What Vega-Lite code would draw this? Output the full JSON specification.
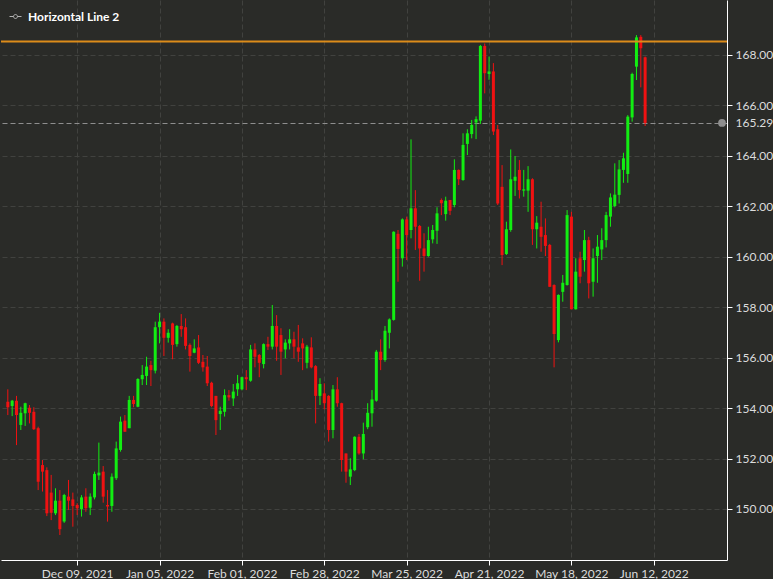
{
  "$schema": "https://vega.github.io/schema/vega-lite/v6.json",
  "width": 726,
  "height": 560,
  "padding": 0,
  "background": "#2a2b28",
  "config": {"view": {"stroke": null}, "font": "Lato"},
  "datasets": {
    "ohlc": [
      {"d":"2021-11-17","o":154.25,"h":154.74,"l":153.72,"c":154.03},
      {"d":"2021-11-18","o":154.08,"h":154.32,"l":153.68,"c":154.29},
      {"d":"2021-11-19","o":154.29,"h":154.48,"l":152.53,"c":153.72},
      {"d":"2021-11-22","o":153.33,"h":154.05,"l":153.13,"c":153.81},
      {"d":"2021-11-23","o":153.79,"h":154.21,"l":153.29,"c":154.19},
      {"d":"2021-11-24","o":154.01,"h":154.12,"l":153.39,"c":153.81},
      {"d":"2021-11-25","o":153.85,"h":154.03,"l":153.13,"c":153.16},
      {"d":"2021-11-26","o":153.2,"h":153.26,"l":150.75,"c":151.08},
      {"d":"2021-11-29","o":151.74,"h":151.94,"l":150.69,"c":151.48},
      {"d":"2021-11-30","o":151.54,"h":151.65,"l":149.72,"c":149.83},
      {"d":"2021-12-01","o":150.65,"h":151.35,"l":149.56,"c":149.85},
      {"d":"2021-12-02","o":149.83,"h":150.82,"l":149.76,"c":150.33},
      {"d":"2021-12-03","o":150.33,"h":150.75,"l":148.97,"c":149.2},
      {"d":"2021-12-06","o":149.5,"h":150.6,"l":149.45,"c":150.55},
      {"d":"2021-12-07","o":150.49,"h":151.15,"l":149.96,"c":150.33},
      {"d":"2021-12-08","o":150.38,"h":150.65,"l":149.3,"c":150.12},
      {"d":"2021-12-09","o":150.16,"h":150.23,"l":149.76,"c":150.03},
      {"d":"2021-12-10","o":149.99,"h":150.55,"l":149.7,"c":150.46},
      {"d":"2021-12-13","o":150.49,"h":150.82,"l":149.89,"c":150.03},
      {"d":"2021-12-14","o":150.05,"h":150.62,"l":149.76,"c":150.49},
      {"d":"2021-12-15","o":150.46,"h":151.48,"l":150.38,"c":151.39},
      {"d":"2021-12-16","o":151.33,"h":152.63,"l":151.15,"c":151.44},
      {"d":"2021-12-17","o":151.48,"h":151.7,"l":150.25,"c":150.49},
      {"d":"2021-12-20","o":150.16,"h":150.75,"l":149.5,"c":150.1},
      {"d":"2021-12-21","o":150.12,"h":151.41,"l":149.89,"c":151.28},
      {"d":"2021-12-22","o":151.22,"h":152.67,"l":151.15,"c":152.4},
      {"d":"2021-12-23","o":152.34,"h":153.66,"l":152.27,"c":153.46},
      {"d":"2021-12-24","o":153.5,"h":153.72,"l":153.06,"c":153.06},
      {"d":"2021-12-27","o":153.2,"h":154.48,"l":153.2,"c":154.32},
      {"d":"2021-12-28","o":154.32,"h":154.48,"l":154.03,"c":154.16},
      {"d":"2021-12-29","o":154.05,"h":155.18,"l":154.03,"c":155.15},
      {"d":"2021-12-30","o":155.14,"h":155.7,"l":154.91,"c":155.31},
      {"d":"2021-12-31","o":155.27,"h":156.03,"l":154.91,"c":155.64},
      {"d":"2022-01-03","o":155.7,"h":155.87,"l":154.87,"c":155.5},
      {"d":"2022-01-04","o":155.48,"h":157.42,"l":155.37,"c":157.2},
      {"d":"2022-01-05","o":157.2,"h":157.77,"l":156.56,"c":157.42},
      {"d":"2022-01-06","o":157.42,"h":157.55,"l":156.06,"c":156.78},
      {"d":"2022-01-07","o":156.78,"h":157.12,"l":156.59,"c":156.98},
      {"d":"2022-01-10","o":157.35,"h":157.38,"l":155.93,"c":156.5},
      {"d":"2022-01-11","o":156.53,"h":157.29,"l":156.43,"c":157.25},
      {"d":"2022-01-12","o":157.25,"h":157.72,"l":156.82,"c":157.12},
      {"d":"2022-01-13","o":157.2,"h":157.55,"l":156.32,"c":156.46},
      {"d":"2022-01-14","o":156.5,"h":156.56,"l":155.44,"c":156.06},
      {"d":"2022-01-17","o":156.19,"h":156.72,"l":156.17,"c":156.36},
      {"d":"2022-01-18","o":156.4,"h":156.89,"l":155.74,"c":155.79},
      {"d":"2022-01-19","o":155.83,"h":156.1,"l":155.44,"c":155.61},
      {"d":"2022-01-20","o":155.64,"h":156.06,"l":154.87,"c":154.98},
      {"d":"2022-01-21","o":155.0,"h":155.04,"l":154.03,"c":154.08},
      {"d":"2022-01-24","o":154.48,"h":154.48,"l":152.93,"c":153.52},
      {"d":"2022-01-25","o":153.76,"h":154.05,"l":153.13,"c":153.89},
      {"d":"2022-01-26","o":153.85,"h":154.74,"l":153.66,"c":154.51},
      {"d":"2022-01-27","o":154.51,"h":154.71,"l":154.29,"c":154.42},
      {"d":"2022-01-28","o":154.38,"h":154.95,"l":154.08,"c":154.65},
      {"d":"2022-01-31","o":154.74,"h":155.31,"l":154.48,"c":154.98},
      {"d":"2022-02-01","o":154.74,"h":155.24,"l":154.7,"c":155.22},
      {"d":"2022-02-02","o":155.22,"h":155.5,"l":154.71,"c":155.14},
      {"d":"2022-02-03","o":155.08,"h":156.5,"l":155.04,"c":156.32},
      {"d":"2022-02-04","o":156.32,"h":156.56,"l":155.61,"c":156.03},
      {"d":"2022-02-07","o":156.1,"h":156.14,"l":155.22,"c":155.79},
      {"d":"2022-02-08","o":155.74,"h":156.56,"l":155.57,"c":156.53},
      {"d":"2022-02-09","o":156.53,"h":156.82,"l":156.3,"c":156.43},
      {"d":"2022-02-10","o":156.43,"h":158.08,"l":156.32,"c":157.25},
      {"d":"2022-02-11","o":157.25,"h":157.68,"l":155.87,"c":156.43},
      {"d":"2022-02-14","o":156.89,"h":157.16,"l":155.31,"c":156.23},
      {"d":"2022-02-15","o":156.32,"h":156.72,"l":155.97,"c":156.59},
      {"d":"2022-02-16","o":156.56,"h":157.12,"l":156.32,"c":156.72},
      {"d":"2022-02-17","o":156.72,"h":157.02,"l":155.97,"c":156.43},
      {"d":"2022-02-18","o":156.4,"h":157.29,"l":155.83,"c":156.23},
      {"d":"2022-02-21","o":156.56,"h":156.76,"l":155.5,"c":156.36},
      {"d":"2022-02-22","o":155.79,"h":156.5,"l":155.57,"c":156.43},
      {"d":"2022-02-23","o":156.4,"h":156.8,"l":155.57,"c":155.61},
      {"d":"2022-02-24","o":155.66,"h":155.7,"l":153.39,"c":154.48},
      {"d":"2022-02-25","o":154.48,"h":155.18,"l":154.12,"c":154.95},
      {"d":"2022-02-28","o":154.58,"h":154.98,"l":153.95,"c":154.19},
      {"d":"2022-03-01","o":154.48,"h":154.51,"l":152.67,"c":153.13},
      {"d":"2022-03-02","o":153.13,"h":154.91,"l":152.8,"c":154.74},
      {"d":"2022-03-03","o":154.74,"h":155.22,"l":154.05,"c":154.19},
      {"d":"2022-03-04","o":154.19,"h":154.21,"l":151.48,"c":151.94},
      {"d":"2022-03-07","o":152.2,"h":152.2,"l":151.04,"c":151.48},
      {"d":"2022-03-08","o":151.28,"h":152.01,"l":150.95,"c":151.57},
      {"d":"2022-03-09","o":151.54,"h":152.88,"l":151.5,"c":152.86},
      {"d":"2022-03-10","o":152.86,"h":152.97,"l":152.15,"c":152.2},
      {"d":"2022-03-11","o":152.2,"h":153.42,"l":151.97,"c":152.97},
      {"d":"2022-03-14","o":153.24,"h":154.19,"l":153.16,"c":153.81},
      {"d":"2022-03-15","o":153.79,"h":154.71,"l":153.26,"c":154.34},
      {"d":"2022-03-16","o":154.29,"h":156.3,"l":154.25,"c":156.23},
      {"d":"2022-03-17","o":156.23,"h":156.72,"l":155.5,"c":155.9},
      {"d":"2022-03-18","o":155.9,"h":157.25,"l":155.83,"c":157.06},
      {"d":"2022-03-21","o":156.98,"h":157.55,"l":156.36,"c":157.51},
      {"d":"2022-03-22","o":157.49,"h":161.0,"l":157.46,"c":160.98},
      {"d":"2022-03-23","o":160.9,"h":161.05,"l":159.0,"c":160.3},
      {"d":"2022-03-24","o":159.93,"h":161.51,"l":159.6,"c":161.47},
      {"d":"2022-03-25","o":161.47,"h":161.58,"l":159.86,"c":160.85},
      {"d":"2022-03-28","o":161.05,"h":164.64,"l":160.72,"c":161.91},
      {"d":"2022-03-29","o":161.91,"h":162.63,"l":160.26,"c":161.18},
      {"d":"2022-03-30","o":161.21,"h":161.25,"l":159.04,"c":160.32},
      {"d":"2022-03-31","o":160.32,"h":160.92,"l":159.4,"c":160.02},
      {"d":"2022-04-01","o":160.02,"h":161.18,"l":159.99,"c":160.65},
      {"d":"2022-04-04","o":160.68,"h":161.25,"l":160.52,"c":161.05},
      {"d":"2022-04-05","o":161.02,"h":161.95,"l":160.5,"c":161.71},
      {"d":"2022-04-06","o":162.24,"h":162.3,"l":161.64,"c":162.11},
      {"d":"2022-04-07","o":161.68,"h":162.37,"l":161.42,"c":162.21},
      {"d":"2022-04-08","o":162.24,"h":162.24,"l":161.64,"c":161.81},
      {"d":"2022-04-11","o":162.04,"h":163.85,"l":161.95,"c":163.43},
      {"d":"2022-04-12","o":163.43,"h":163.45,"l":162.83,"c":163.06},
      {"d":"2022-04-13","o":163.03,"h":164.88,"l":163.0,"c":164.42},
      {"d":"2022-04-14","o":164.46,"h":165.04,"l":164.02,"c":164.88},
      {"d":"2022-04-15","o":164.85,"h":165.41,"l":164.68,"c":165.21},
      {"d":"2022-04-18","o":165.31,"h":165.55,"l":164.65,"c":165.44},
      {"d":"2022-04-19","o":165.38,"h":168.38,"l":165.25,"c":168.34},
      {"d":"2022-04-20","o":168.34,"h":168.44,"l":166.46,"c":167.26},
      {"d":"2022-04-21","o":167.23,"h":167.92,"l":167.0,"c":167.33},
      {"d":"2022-04-22","o":167.33,"h":167.66,"l":164.81,"c":164.95},
      {"d":"2022-04-25","o":165.04,"h":165.21,"l":162.04,"c":162.1},
      {"d":"2022-04-26","o":162.76,"h":163.62,"l":159.66,"c":160.06},
      {"d":"2022-04-27","o":160.1,"h":161.38,"l":160.06,"c":161.08},
      {"d":"2022-04-28","o":161.05,"h":164.24,"l":160.98,"c":163.06},
      {"d":"2022-04-29","o":163.0,"h":163.98,"l":162.4,"c":163.16},
      {"d":"2022-05-02","o":163.43,"h":163.82,"l":162.3,"c":162.63},
      {"d":"2022-05-03","o":162.61,"h":163.43,"l":162.37,"c":162.66},
      {"d":"2022-05-04","o":162.61,"h":163.58,"l":161.77,"c":163.06},
      {"d":"2022-05-05","o":163.06,"h":163.1,"l":160.46,"c":161.08},
      {"d":"2022-05-06","o":161.08,"h":161.6,"l":160.32,"c":161.34},
      {"d":"2022-05-09","o":161.18,"h":162.17,"l":160.19,"c":160.78},
      {"d":"2022-05-10","o":160.85,"h":161.51,"l":160.02,"c":160.42},
      {"d":"2022-05-11","o":160.46,"h":160.5,"l":158.8,"c":158.8},
      {"d":"2022-05-12","o":158.87,"h":158.9,"l":155.61,"c":156.93},
      {"d":"2022-05-13","o":156.69,"h":158.5,"l":156.6,"c":158.48},
      {"d":"2022-05-16","o":158.6,"h":159.27,"l":158.21,"c":158.96},
      {"d":"2022-05-17","o":158.87,"h":161.84,"l":158.85,"c":161.64},
      {"d":"2022-05-18","o":161.58,"h":161.77,"l":157.91,"c":157.91},
      {"d":"2022-05-19","o":157.91,"h":159.93,"l":157.9,"c":159.4},
      {"d":"2022-05-20","o":159.93,"h":160.19,"l":158.94,"c":159.2},
      {"d":"2022-05-23","o":159.86,"h":161.05,"l":159.4,"c":160.65},
      {"d":"2022-05-24","o":160.65,"h":160.78,"l":158.34,"c":158.94},
      {"d":"2022-05-25","o":159.0,"h":160.32,"l":158.41,"c":159.93},
      {"d":"2022-05-26","o":160.02,"h":160.85,"l":158.96,"c":160.39},
      {"d":"2022-05-27","o":160.28,"h":161.12,"l":159.86,"c":160.65},
      {"d":"2022-05-30","o":160.65,"h":161.77,"l":160.36,"c":161.64},
      {"d":"2022-05-31","o":161.58,"h":162.5,"l":161.18,"c":162.34},
      {"d":"2022-06-01","o":162.0,"h":163.69,"l":161.95,"c":162.45},
      {"d":"2022-06-02","o":162.44,"h":163.82,"l":162.1,"c":163.45},
      {"d":"2022-06-03","o":163.43,"h":164.11,"l":162.92,"c":163.89},
      {"d":"2022-06-06","o":163.27,"h":165.6,"l":162.92,"c":165.54},
      {"d":"2022-06-07","o":165.51,"h":167.28,"l":165.34,"c":167.23},
      {"d":"2022-06-08","o":167.52,"h":168.77,"l":166.99,"c":168.68},
      {"d":"2022-06-09","o":168.7,"h":168.77,"l":166.7,"c":168.25},
      {"d":"2022-06-10","o":167.89,"h":167.92,"l":165.17,"c":165.29}
    ],
    "lines": [{"name": "Horizontal Line 2", "level": 168.52}],
    "last": [{"price": 165.29}]
  },
  "layer": [
    {
      "data": {"name": "ohlc"},
      "transform": [{"window": [{"op": "row_number", "as": "i"}], "sort": [{"field": "d", "order": "ascending"}]}],
      "layer": [
        {
          "mark": {"type": "rule", "strokeWidth": 1},
          "encoding": {
            "x": {
              "field": "i", "type": "quantitative",
              "scale": {"domain": [0.58, 165.73], "nice": false, "zero": false},
              "axis": {
                "title": null,
                "values": [17, 36, 55, 74, 93, 112, 131, 150],
                "labelExpr": "['Dec 09, 2021','Jan 05, 2022','Feb 01, 2022','Feb 28, 2022','Mar 25, 2022','Apr 21, 2022','May 18, 2022','Jun 12, 2022'][round((datum.value-17)/19)]",
                "grid": true, "gridColor": "#41423f", "gridDash": [5, 3], "gridWidth": 1,
                "domainColor": "#ffffff", "tickColor": "#ffffff", "tickSize": 5,
                "labelColor": "#dcdcdc", "labelFontSize": 12, "labelPadding": 3, "labelFont": "Lato"
              }
            },
            "y": {
              "field": "l", "type": "quantitative",
              "scale": {"domain": [147.98, 170.16], "nice": false, "zero": false},
              "axis": {
                "title": null, "orient": "right",
                "values": [150, 152, 154, 156, 158, 160, 162, 164, 166, 168, 165.29],
                "format": ".2f",
                "grid": true,
                "gridColor": {"condition": {"test": "datum.value == 165.29", "value": "#8e8e8e"}, "value": "#41423f"},
                "gridDash": [5, 3], "gridWidth": 1,
                "domainColor": "#ffffff",
                "tickColor": {"condition": {"test": "datum.value == 165.29", "value": "transparent"}, "value": "#ffffff"},
                "tickSize": 5,
                "labelColor": "#dcdcdc", "labelFontSize": 12, "labelPadding": 3, "labelFont": "Lato"
              }
            },
            "y2": {"field": "h"},
            "color": {"condition": {"test": "datum.c >= datum.o", "value": "#12ee12"}, "value": "#f01212"}
          }
        },
        {
          "mark": {"type": "bar", "size": 3},
          "encoding": {
            "x": {"field": "i", "type": "quantitative"},
            "y": {"field": "o", "type": "quantitative", "title": null},
            "y2": {"field": "c"},
            "color": {"condition": {"test": "datum.c >= datum.o", "value": "#12ee12"}, "value": "#f01212"}
          }
        }
      ]
    },
    {
      "data": {"name": "lines"},
      "mark": {"type": "rule", "strokeWidth": 2, "color": "#dc8c1a"},
      "encoding": {
        "y": {"field": "level", "type": "quantitative", "title": null}
      }
    },
    {
      "data": {"name": "lines"},
      "mark": {"type": "rule", "strokeWidth": 1, "strokeOpacity": 0},
      "encoding": {
        "y": {"field": "level", "type": "quantitative", "title": null},
        "color": {
          "field": "name", "type": "nominal",
          "scale": {"range": ["#b4b4b4"]},
          "legend": {
            "title": null, "orient": "none", "legendX": 8, "legendY": 10,
            "symbolType": "M-1,0H-0.33M0.33,0H1M0.33,0A0.33,0.33,0,1,1,-0.33,0A0.33,0.33,0,1,1,0.33,0Z",
            "symbolSize": 144, "symbolStrokeWidth": 1, "symbolOpacity": 1,
            "labelColor": "#ffffff", "labelFontSize": 12, "labelFontWeight": "bold", "labelFont": "Lato", "labelOffset": 6,
            "encode": {"symbols": {"update": {"strokeOpacity": {"value": 1}, "opacity": {"value": 1}}}}
          }
        }
      }
    },
    {
      "data": {"name": "last"},
      "mark": {"type": "point", "filled": true, "size": 60, "clip": false, "opacity": 1},
      "encoding": {
        "x": {"datum": 165.73, "type": "quantitative"},
        "y": {"field": "price", "type": "quantitative", "title": null},
        "color": {"value": "#8e8e8e"}
      }
    }
  ]
}
